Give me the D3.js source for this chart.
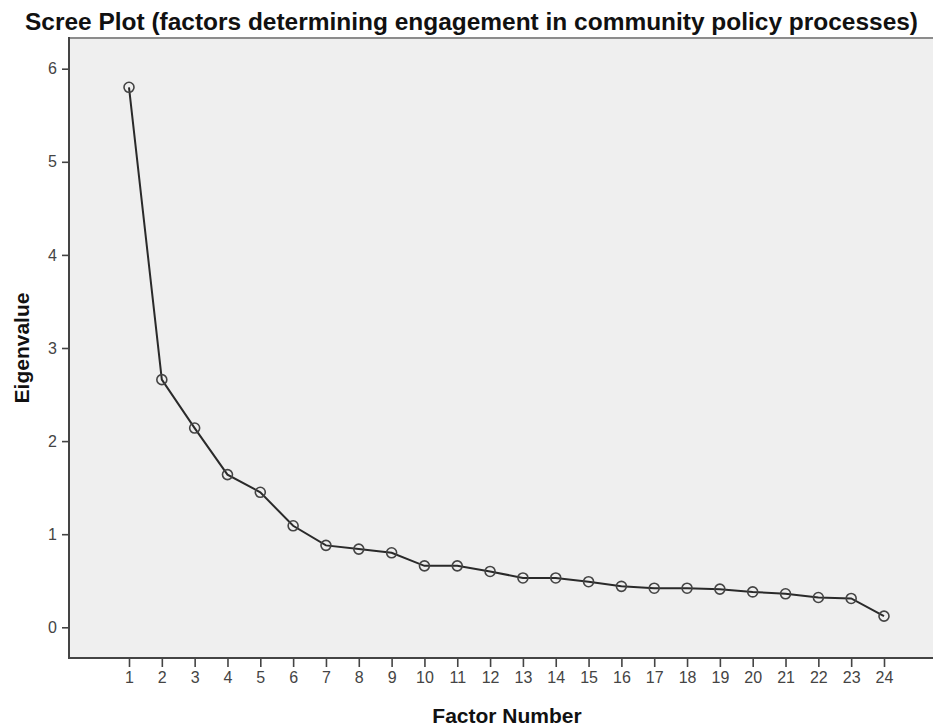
<!DOCTYPE html>
<html>
<head>
<meta charset="utf-8">
<script src="https://cdn.jsdelivr.net/npm/d3@7"></script>
<style>
  html, body { margin: 0; padding: 0; background: #ffffff; }
  svg { display: block; font-family: "Liberation Sans", Arial, sans-serif; }
</style>
</head>
<body>
<svg id="chart" width="933" height="726"></svg>
<script>
const title = "Scree Plot (factors determining engagement in community policy processes)";
const xLabel = "Factor Number";
const yLabel = "Eigenvalue";
const factors = [1,2,3,4,5,6,7,8,9,10,11,12,13,14,15,16,17,18,19,20,21,22,23,24];
const eigenvalues = [5.80,2.66,2.14,1.64,1.45,1.09,0.88,0.84,0.80,0.66,0.66,0.60,0.53,0.53,0.49,0.44,0.42,0.42,0.41,0.38,0.36,0.32,0.31,0.12];
const yTicks = [0,1,2,3,4,5,6];

const svg = d3.select("#chart");
const plot = {left: 69, top: 38, right: 945, bottom: 658};

const x = d3.scaleLinear().domain([1, 24]).range([129, 884]);
const y = d3.scaleLinear().domain([0, 6]).range([627.3, 68.7]);

// plot background
svg.append("rect")
  .attr("x", plot.left).attr("y", plot.top)
  .attr("width", plot.right - plot.left).attr("height", plot.bottom - plot.top)
  .attr("fill", "#efefef");

// top border
svg.append("line")
  .attr("x1", plot.left).attr("x2", plot.right)
  .attr("y1", plot.top).attr("y2", plot.top)
  .attr("stroke", "#8c8c8c").attr("stroke-width", 2);

// Y axis
const yAxis = d3.axisLeft(y).tickValues(yTicks).tickFormat(d3.format("d")).tickSize(7).tickPadding(5);
const gy = svg.append("g").attr("transform", `translate(${plot.left},0)`).call(yAxis);
gy.select(".domain").remove();
gy.selectAll(".tick line").attr("stroke", "#444").attr("stroke-width", 1.6);
gy.selectAll(".tick text").attr("fill", "#444").style("font-size", "16px")
  .style("font-family", "'Liberation Sans', Arial, sans-serif");
svg.append("line")
  .attr("x1", plot.left).attr("x2", plot.left)
  .attr("y1", plot.top - 1).attr("y2", plot.bottom + 1)
  .attr("stroke", "#444").attr("stroke-width", 2);

// X axis
const xAxis = d3.axisBottom(x).tickValues(factors).tickFormat(d3.format("d")).tickSize(9).tickPadding(5);
const gx = svg.append("g").attr("transform", `translate(0,${plot.bottom})`).call(xAxis);
gx.select(".domain").remove();
gx.selectAll(".tick line").attr("stroke", "#444").attr("stroke-width", 1.6);
gx.selectAll(".tick text").attr("fill", "#444").style("font-size", "16px")
  .style("font-family", "'Liberation Sans', Arial, sans-serif");
svg.append("line")
  .attr("x1", plot.left - 1).attr("x2", plot.right)
  .attr("y1", plot.bottom).attr("y2", plot.bottom)
  .attr("stroke", "#444").attr("stroke-width", 2);

// line
const data = factors.map((f, i) => ({f, v: eigenvalues[i]}));
svg.append("path")
  .datum(data)
  .attr("fill", "none")
  .attr("stroke", "#2a2a2a")
  .attr("stroke-width", 2)
  .attr("d", d3.line().x(d => x(d.f)).y(d => y(d.v)));

// markers
svg.append("g").selectAll("circle").data(data).join("circle")
  .attr("cx", d => x(d.f)).attr("cy", d => y(d.v)).attr("r", 5)
  .attr("fill", "none").attr("stroke", "#444").attr("stroke-width", 1.6);

// title
const t = svg.append("text")
  .attr("x", 25).attr("y", 30)
  .attr("fill", "#111")
  .style("font-size", "23px").style("font-weight", "bold")
  .text(title);
const tw = t.node().getComputedTextLength();
if (Math.abs(tw - 893) > 4) t.attr("textLength", 893).attr("lengthAdjust", "spacingAndGlyphs");

// axis titles
svg.append("text")
  .attr("x", (plot.left + plot.right) / 2).attr("y", 723)
  .attr("text-anchor", "middle").attr("fill", "#111")
  .style("font-size", "21px").style("font-weight", "bold")
  .text(xLabel);

svg.append("text")
  .attr("transform", `translate(29,${(plot.top + plot.bottom) / 2}) rotate(-90)`)
  .attr("text-anchor", "middle").attr("fill", "#111")
  .style("font-size", "21px").style("font-weight", "bold")
  .text(yLabel);
</script>
</body>
</html>
